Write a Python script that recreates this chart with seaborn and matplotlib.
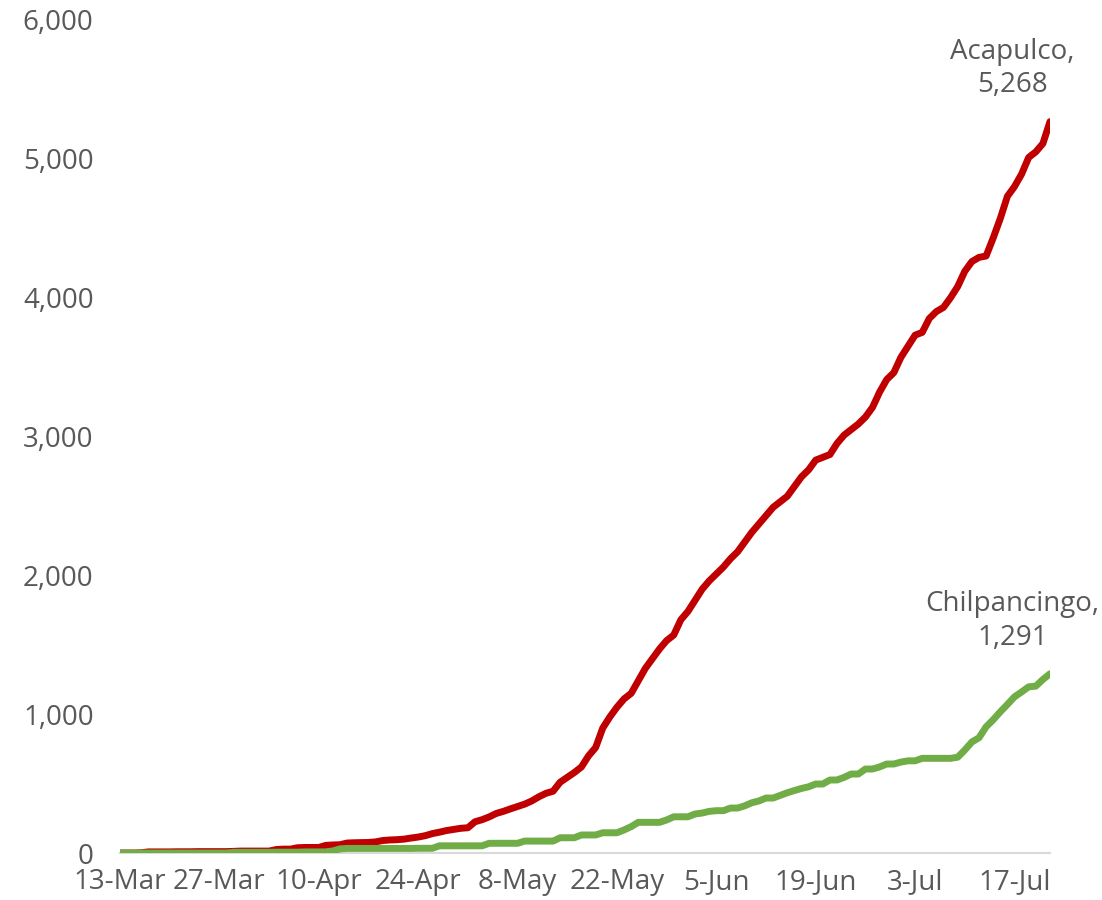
import pandas as pd
import matplotlib.pyplot as plt
import matplotlib.dates as mdates
from matplotlib.ticker import FuncFormatter
import seaborn as sns

# cumulative confirmed cases, one value per day from 13-Mar
start_date = '2020-03-13'
acapulco = [0, 0, 0, 2, 8, 8, 8, 8, 9, 9, 9, 10, 10, 10, 10, 10,
            12, 14, 14, 14, 14, 14, 25, 28, 28, 38, 40, 40, 40, 55,
            58, 60, 72, 74, 75, 76, 80, 90, 94, 96, 100, 108, 115, 125,
            140, 150, 162, 170, 178, 182, 225, 240, 260, 285, 300, 318,
            335, 352, 375, 405, 430, 445, 510, 545, 580, 620, 700, 760,
            900, 980, 1050, 1110, 1150, 1240, 1330, 1400, 1470, 1530,
            1570, 1680, 1740, 1820, 1900, 1960, 2010, 2060, 2120, 2170,
            2240, 2310, 2370, 2430, 2490, 2530, 2570, 2640, 2710, 2760,
            2830, 2850, 2870, 2950, 3010, 3050, 3090, 3140, 3210, 3320,
            3410, 3460, 3570, 3650, 3730, 3750, 3850, 3900, 3930, 4000,
            4080, 4190, 4260, 4290, 4300, 4430, 4570, 4730, 4800, 4890,
            5010, 5050, 5110, 5268]
chilpancingo = [0, 0, 0, 0, 0, 0, 0, 0, 0, 0, 0, 0, 0, 0, 0, 0,
                5, 5, 5, 5, 5, 5, 6, 6, 6, 6, 8, 8, 8, 8, 15, 30,
                33, 33, 33, 33, 33, 33, 33, 33, 33, 33, 34, 34, 34, 52,
                52, 52, 52, 52, 52, 52, 70, 70, 70, 70, 70, 86, 86, 86,
                86, 86, 110, 110, 110, 130, 130, 130, 146, 146, 146, 166,
                190, 221, 221, 221, 221, 238, 261, 261, 261, 281, 288, 300,
                305, 305, 324, 324, 340, 362, 375, 396, 396, 415, 434, 450,
                465, 477, 497, 497, 526, 526, 545, 569, 569, 605, 605, 620,
                641, 641, 655, 664, 664, 682, 682, 682, 682, 682, 690, 742,
                800, 830, 909, 960, 1017, 1070, 1125, 1160, 1197, 1202,
                1250, 1291]

dates = pd.date_range(start_date, periods=len(acapulco), freq='D')
df = pd.DataFrame({
    'date': list(dates) * 2,
    'cases': acapulco + chilpancingo,
    'city': ['Acapulco'] * len(acapulco) + ['Chilpancingo'] * len(chilpancingo),
})

sns.set_style('white')
plt.rcParams['font.family'] = ['Open Sans', 'DejaVu Sans']
text_color = '#595959'

fig = plt.figure(figsize=(11.02, 9.0), dpi=100)
ax = fig.add_axes([0.1089, 0.0522, 0.8439, 0.9256])

sns.lineplot(data=df, x='date', y='cases', hue='city',
             palette={'Acapulco': '#C00000', 'Chilpancingo': '#70AD47'},
             linewidth=5, legend=False, ax=ax)

ax.set_xlim(dates[0], dates[-1])
ax.set_ylim(0, 6000)
ax.set_yticks(range(0, 6001, 1000))
ax.yaxis.set_major_formatter(FuncFormatter(lambda v, p: f'{int(v):,}'))
ax.set_xticks(pd.date_range(start_date, dates[-1], freq='14D'))
ax.xaxis.set_major_formatter(mdates.DateFormatter('%-d-%b'))
ax.set_xlabel('')
ax.set_ylabel('')

for side in ['top', 'right', 'left']:
    ax.spines[side].set_visible(False)
ax.spines['bottom'].set_color('#D9D9D9')
ax.spines['bottom'].set_linewidth(1.5)
ax.spines['bottom'].set_zorder(0)
ax.tick_params(axis='x', length=0, pad=11, labelsize=20, labelcolor=text_color)
ax.tick_params(axis='y', length=0, pad=19, labelsize=20, labelcolor=text_color)

for name, vals in [('Acapulco', acapulco), ('Chilpancingo', chilpancingo)]:
    ax.annotate(f'{name},\n{vals[-1]:,}', xy=(dates[-1], vals[-1]),
                xytext=(-27, 16), textcoords='offset points',
                ha='center', va='bottom', multialignment='center',
                fontsize=20, color=text_color, linespacing=1.25)

plt.savefig('out.png', dpi=100)
